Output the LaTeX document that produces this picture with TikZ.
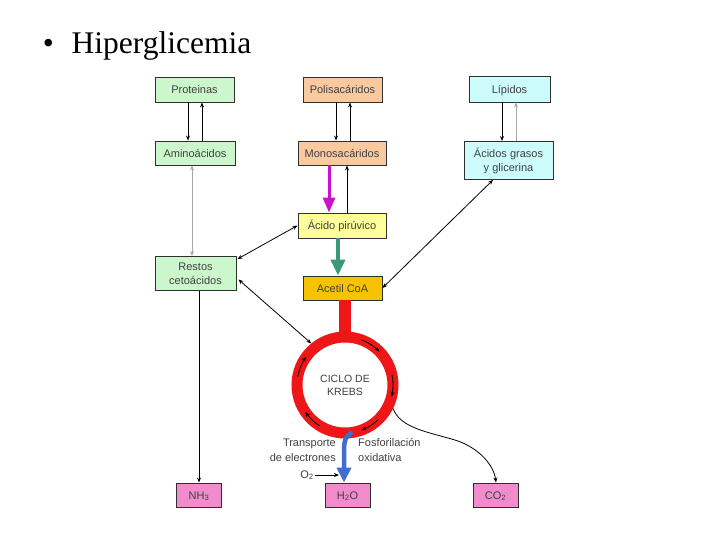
\documentclass[tikz,border=0pt]{standalone}
\usepackage{fontspec}
\setmainfont{Liberation Sans}
\newfontfamily\titlefont{Liberation Serif}
\usetikzlibrary{arrows.meta,calc}
\definecolor{boxline}{HTML}{303030}
\definecolor{txt}{HTML}{404040}
\definecolor{cgreen}{HTML}{CCF7CC}
\definecolor{cpeach}{HTML}{F9C9A0}
\definecolor{ccyan}{HTML}{CCFCFC}
\definecolor{cyellow}{HTML}{FFFF99}
\definecolor{corange}{HTML}{F7C300}
\definecolor{cpink}{HTML}{F08CCC}
\definecolor{cred}{HTML}{EE1616}
\definecolor{cmag}{HTML}{CC11CC}
\definecolor{cteal}{HTML}{3A9A78}
\definecolor{cblue}{HTML}{3F6ECF}
\definecolor{cgray}{HTML}{A8A8A8}
\begin{document}
\begin{tikzpicture}[x=1pt,y=-1pt,
  box/.style={draw=boxline, line width=0.9pt, inner sep=0pt, align=center, text=txt, font=\fontsize{11}{14}\selectfont},
  one/.style={text height=9pt, text depth=0.5pt},
  lbl/.style={text=txt, font=\fontsize{11}{15}\selectfont},
  arr/.style={line width=0.8pt, -{Stealth[length=5pt,width=4pt]}},
  darr/.style={line width=0.8pt, {Stealth[length=5pt,width=4pt]}-{Stealth[length=5pt,width=4pt]}},
  cyc/.style={line width=0.8pt, -{Stealth[length=5pt,width=4pt]}},
  ttl/.style={font=\titlefont\fontsize{31.5}{36}\selectfont}
]
\fill[white] (0,0) rectangle (720,540);
\useasboundingbox (0,0) rectangle (720,540);

% title
\node[ttl, anchor=base] (bullet) at (48.5,54) {•};
\node[ttl, anchor=base west, inner sep=0pt] (title) at (71.5,54) {Hiperglicemia};

% boxes
\node[box, one, fill=cgreen, minimum width=79pt, minimum height=25pt] (prot) at (194.5,89.5) {Proteinas};
\node[box, one, fill=cpeach, minimum width=79pt, minimum height=25pt] (polis) at (342.5,89.5) {Polisacáridos};
\node[box, one, fill=ccyan, minimum width=81pt, minimum height=26pt] (lip) at (509.5,89) {Lípidos};
\node[box, one, fill=cgreen, minimum width=80pt, minimum height=24pt] (amino) at (195,153) {Aminoácidos};
\node[box, one, fill=cpeach, minimum width=88pt, minimum height=24pt] (mono) at (342,153) {Monosacáridos};
\node[box, fill=ccyan, minimum width=89pt, minimum height=38pt] (acgr) at (508.5,160.5) {Ácidos grasos\\y glicerina};
\node[box, one, fill=cyellow, minimum width=88pt, minimum height=25pt] (piru) at (342,225.5) {Ácido pirúvico};
\node[box, fill=cgreen, minimum width=81pt, minimum height=34pt] (restos) at (195.5,273.5) {Restos\\cetoácidos};
\node[box, one, fill=corange, minimum width=79pt, minimum height=24pt] (acetil) at (342.5,288) {Acetil CoA};
\node[box, one, fill=cpink, minimum width=45pt, minimum height=24pt] (nh3) at (199,495) {NH\textsubscript{3}};
\node[box, one, fill=cpink, minimum width=45pt, minimum height=24pt] (h2o) at (347.5,495) {H\textsubscript{2}O};
\node[box, one, fill=cpink, minimum width=45pt, minimum height=24pt] (co2) at (495.5,495) {CO\textsubscript{2}};

% Krebs ring
\draw[cred, line width=12pt] (345,0 |- acetil.south) -- (345,336);
\node[circle, draw=cred, line width=11pt, minimum size=96pt, inner sep=0pt, align=center, text=txt, font=\fontsize{10.5}{13}\selectfont] (krebs) at (345,385) {CICLO DE\\KREBS};

% cycle arrows inside ring
\draw[cyc] plot[domain=-70:-44, samples=12, smooth] ({345+48*cos(\x)},{385+48*sin(\x)});
\draw[cyc] plot[domain=-12:14, samples=12, smooth] ({345+48*cos(\x)},{385+48*sin(\x)});
\draw[cyc] plot[domain=46:70, samples=12, smooth] ({345+48*cos(\x)},{385+48*sin(\x)});
\draw[cyc] plot[domain=122:146, samples=12, smooth] ({345+48*cos(\x)},{385+48*sin(\x)});
\draw[cyc] plot[domain=190:216, samples=12, smooth] ({345+48*cos(\x)},{385+48*sin(\x)});

% top arrows
\draw[arr] (188,0 |- prot.south) -- (188,0 |- amino.north);
\draw[arr] (202,0 |- amino.north) -- (202,0 |- prot.south);
\draw[arr] (336,0 |- polis.south) -- (336,0 |- mono.north);
\draw[arr] (350,0 |- mono.north) -- (350,0 |- polis.south);
\draw[arr] (502,0 |- lip.south) -- (502,0 |- acgr.north);
\draw[arr, cgray] (516,0 |- acgr.north) -- (516,0 |- lip.south);

% monosacaridos <-> piruvico
\draw[cmag, line width=3pt, -{Triangle[length=15pt,width=12pt]}] (329,0 |- mono.south) -- (329,0 |- piru.north);
\draw[arr] (347,0 |- piru.north) -- (347,0 |- mono.south);

% piruvico -> acetil
\draw[cteal, line width=4pt, -{Triangle[length=16pt,width=14pt]}] (338,0 |- piru.south) -- (338,0 |- acetil.north);

% aminoacidos <-> restos (gray)
\draw[cgray, line width=0.8pt, {Stealth[length=5pt,width=4pt]}-{Stealth[length=5pt,width=4pt]}] (192,0 |- amino.south) -- (192,0 |- restos.north);

% diagonal links
\draw[darr] (piru.west) -- ($(restos.north east)+(1,3)$);
\draw[darr] ($(restos.east)+(2,6)$) -- (krebs.129);
\draw[darr] (493,0 |- acgr.south) -- (acetil.east);

% restos -> NH3
\draw[arr] (199,0 |- restos.south) -- (199,0 |- nh3.north);

% krebs -> CO2
\draw[arr] (krebs.-26) .. controls (400,428) and (428,432) .. (455,440) .. controls (480,448) and (494,466) .. (496,0 |- co2.north);

% blue arrow to water
\draw[cblue, line width=4.5pt, -{Triangle[length=15pt,width=14pt]}] (352,432) .. controls (345,438) .. (344,448) -- (344,0 |- h2o.north);

% labels
\node[lbl, align=right, anchor=north east, inner sep=0pt] (transp) at (336,438.5) {Transporte\\de electrones};
\node[lbl, align=left, anchor=north west, inner sep=0pt] (fosf) at (358,438.5) {Fosforilación\\oxidativa};
\node[lbl, inner sep=1pt] (o2) at (307,475) {O\textsubscript{2}};
\coordinate (o2end) at (339,475);
\draw[arr] (o2.east) -- (o2end);
\end{tikzpicture}
\end{document}
